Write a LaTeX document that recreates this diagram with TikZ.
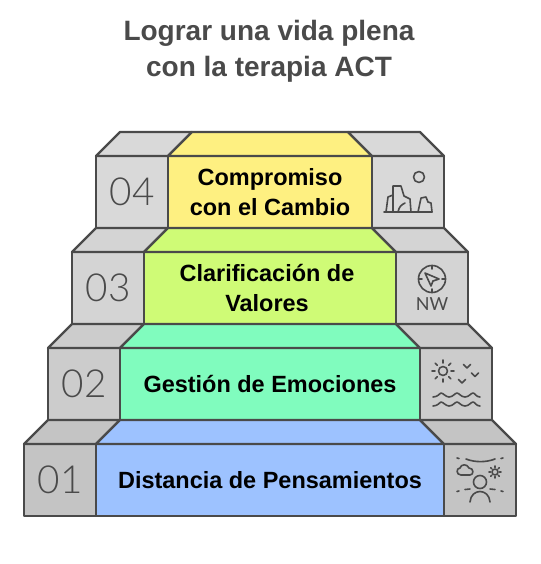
\documentclass[tikz,border=0pt]{standalone}
\usepackage{fontspec}
\setmainfont{Liberation Sans}
\newfontfamily\numfont{Lato Light}
\newfontfamily\dirfont{Lato}
\usetikzlibrary{positioning,calc}
\definecolor{ink}{HTML}{4A4A4A}
\definecolor{wish}{HTML}{FEF081}
\definecolor{lime}{HTML}{CFFB76}
\definecolor{mint}{HTML}{80FCBE}
\definecolor{sky}{HTML}{9DC2FF}
\definecolor{greyA}{HTML}{D9D9D9}
\definecolor{greyB}{HTML}{D4D4D4}
\definecolor{greyC}{HTML}{CCCCCC}
\definecolor{greyD}{HTML}{C4C4C4}
\tikzset{
  every node/.style={outer sep=0pt,inner sep=0pt,text=black},
  face/.style={draw=ink,line width=1.7pt,line join=round},
  sidebox/.style={face,minimum width=54pt,minimum height=54pt},
  numbox/.style={sidebox,font=\numfont\fontsize{29}{29}\selectfont,text=ink},
  stepbox/.style={face,minimum height=54pt,align=center,font=\fontsize{17.6}{22.5}\selectfont\bfseries},
  title/.style={align=center,font=\fontsize{21}{27}\selectfont\bfseries,text=ink},
  icon/.style={draw=ink,line width=1.2pt,line cap=round,line join=round},
}
\begin{document}
\begin{tikzpicture}[x=0.75pt,y=-0.75pt,node distance=18pt]
\useasboundingbox (0,0) rectangle (540,564);
\node[title] (head) at (269,51) {Lograr una vida plena\\con la terapia ACT};
% steps, from the bottom up
\node[stepbox,fill=sky,minimum width=261pt] (mid1) at (270,480) {Distancia de Pensamientos};
\node[numbox,fill=greyD,left=0pt of mid1] (num1) {01};
\node[sidebox,fill=greyD,right=0pt of mid1] (ico1) {};
\node[stepbox,fill=mint,minimum width=225pt,above=18pt of mid1] (mid2) {Gestión de Emociones};
\node[numbox,fill=greyC,left=0pt of mid2] (num2) {02};
\node[sidebox,fill=greyC,right=0pt of mid2] (ico2) {};
\node[stepbox,fill=lime,minimum width=189pt,above=18pt of mid2] (mid3) {Clarificación de\kern4.5pt\\Valores\kern4.5pt};
\node[numbox,fill=greyB,left=0pt of mid3] (num3) {03};
\node[sidebox,fill=greyB,right=0pt of mid3] (ico3) {};
\node[stepbox,fill=wish,minimum width=153pt,above=18pt of mid3] (mid4) {Compromiso\\con el Cambio};
\node[numbox,fill=greyA,left=0pt of mid4] (num4) {04};
\node[sidebox,fill=greyA,right=0pt of mid4] (ico4) {};
% top faces
\draw[face,fill=greyD] (num1.north west) -- ++(24,-24) -- ++(72,0) -- (num1.north east) -- cycle;
\draw[face,fill=sky] (mid1.north west) -- ++(24,-24) -- ($(mid1.north east)+(-24,-24)$) -- (mid1.north east) -- cycle;
\draw[face,fill=greyD] (ico1.north west) -- ++(-24,-24) -- ++(72,0) -- (ico1.north east) -- cycle;
\draw[face,fill=greyC] (num2.north west) -- ++(24,-24) -- ++(72,0) -- (num2.north east) -- cycle;
\draw[face,fill=mint] (mid2.north west) -- ++(24,-24) -- ($(mid2.north east)+(-24,-24)$) -- (mid2.north east) -- cycle;
\draw[face,fill=greyC] (ico2.north west) -- ++(-24,-24) -- ++(72,0) -- (ico2.north east) -- cycle;
\draw[face,fill=greyB] (num3.north west) -- ++(24,-24) -- ++(72,0) -- (num3.north east) -- cycle;
\draw[face,fill=lime] (mid3.north west) -- ++(24,-24) -- ($(mid3.north east)+(-24,-24)$) -- (mid3.north east) -- cycle;
\draw[face,fill=greyB] (ico3.north west) -- ++(-24,-24) -- ++(72,0) -- (ico3.north east) -- cycle;
\draw[face,fill=greyA] (num4.north west) -- ++(24,-24) -- ++(72,0) -- (num4.north east) -- cycle;
\draw[face,fill=wish] (mid4.north west) -- ++(24,-24) -- ($(mid4.north east)+(-24,-24)$) -- (mid4.north east) -- cycle;
\draw[face,fill=greyA] (ico4.north west) -- ++(-24,-24) -- ++(72,0) -- (ico4.north east) -- cycle;
% rocks and moon
\draw[icon] (419,177) circle (5.5);
\draw[icon] (384,212) -- (432,212);
\draw[icon] (386,212) -- (388,197) -- (393,195);
\draw[icon] (393,212) -- (393,186) -- (401,186) -- (404,196) -- (410,199) -- (411,212);
\draw[icon] (398,212) .. controls (399,207) and (401,205) .. (405,203);
\draw[icon] (418,212) -- (421,198) -- (426,197) -- (428,202) -- (431,203) -- (432,212);
% compass
\draw[icon] (432,279) circle (13.5);
\draw[icon] (432,265.5) -- (432,269) (432,292.5) -- (432,289) (418.5,279) -- (422,279) (445.5,279) -- (442,279);
\draw[icon] (425,273) -- (439,279) -- (433,281) -- (431,286) -- cycle;
\node[text=ink,font=\dirfont\fontsize{13.5}{13.5}\selectfont] (nw) at (432,304) {NW};
% sun, birds and water
\draw[icon] (443,371) circle (4.5);
\draw[icon] (451,371) -- (454,371) (435,371) -- (432,371) (443,363) -- (443,360) (443,379) -- (443,382)
  (448.7,365.3) -- (450.8,363.2) (437.3,365.3) -- (435.2,363.2) (448.7,376.7) -- (450.8,378.8) (437.3,376.7) -- (435.2,378.8);
\draw[icon] (463.5,364.5) -- (467,368) -- (470.5,364.5);
\draw[icon] (471.5,373) -- (475,376.5) -- (478.5,373);
\draw[icon] (458.5,379.5) -- (462,383) -- (465.5,379.5);
\draw[icon] (433,397) .. controls (438,397) and (440,393) .. (441,393) .. controls (443,393) and (446,397) .. (449,397)
  .. controls (453,397) and (455,393) .. (457,393) .. controls (459,393) and (461,397) .. (465,397)
  .. controls (469,397) and (471,393) .. (473,393) .. controls (475,393) and (476,397) .. (480,397);
\draw[icon] (433,406) .. controls (438,406) and (440,402) .. (441,402) .. controls (443,402) and (446,406) .. (449,406)
  .. controls (453,406) and (455,402) .. (457,402) .. controls (459,402) and (461,406) .. (465,406)
  .. controls (469,406) and (471,402) .. (473,402) .. controls (475,402) and (476,406) .. (480,406);
% person under the sky
\draw[icon] (466,459) .. controls (475,462.5) and (486,462.5) .. (495,459);
\draw[icon] (457,458) -- (459,458.5) (503,458) -- (501,458.5);
\draw[icon] (461,475) .. controls (456,475) and (456,468) .. (460,468) .. controls (461,464) and (467,463.5) .. (469,468)
  .. controls (474,468) and (474,475) .. (470,475) -- cycle;
\draw[icon] (495,472) circle (3);
\draw[icon] (495,466) -- (495,467.5) (495,478) -- (495,476.5) (489,472) -- (490.5,472) (501,472) -- (499.5,472)
  (490.8,467.8) -- (491.8,468.8) (499.2,467.8) -- (498.2,468.8) (490.8,476.2) -- (491.8,475.2) (499.2,476.2) -- (498.2,475.2);
\draw[icon] (480,482) circle (6.5);
\draw[icon] (470,502) .. controls (471,488) and (489,488) .. (490,502);
\draw[icon] (457,491.5) -- (459,491) (465,489.5) -- (470,489) (490,489) -- (495,489.5) (501,491) -- (503,491.5);
\end{tikzpicture}
\end{document}
